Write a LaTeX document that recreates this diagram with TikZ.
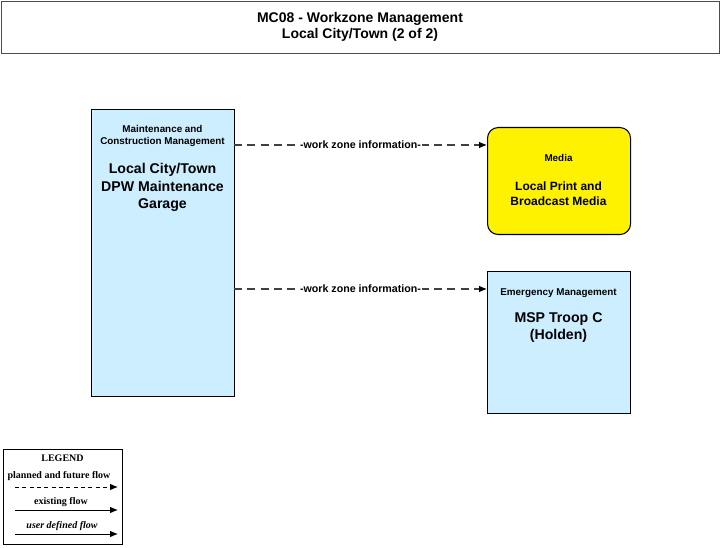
\documentclass[tikz,border=0pt]{standalone}
\usepackage{fontspec}
\setmainfont{Liberation Sans}
\newfontfamily\legfont{Liberation Serif}
\usetikzlibrary{arrows.meta}
\definecolor{boxblue}{HTML}{CCEEFF}
\begin{document}
\begin{tikzpicture}[x=0.75pt,y=-0.75pt,
  ent/.style={draw=black,line width=0.8pt,fill=boxblue,inner sep=0pt,anchor=north west},
  flow/.style={draw=black!75,dashed,dash pattern=on 6pt off 4pt,line width=0.8pt,-{Latex[length=6pt,width=5pt,black]}},
  flowlbl/.style={fill=white,inner sep=0.5pt,font=\bfseries\fontsize{8}{9}\selectfont},
  small/.style={font=\bfseries\fontsize{7.4}{9}\selectfont,align=center},
  big/.style={font=\bfseries\fontsize{10.6}{12.9}\selectfont,align=center},
  leg/.style={font=\legfont\bfseries\fontsize{7.5}{8}\selectfont}]
\useasboundingbox (0,0) rectangle (721,548);
\fill[white] (0,0) rectangle (721,548);
% title
\node[draw=black!70,line width=0.8pt,minimum width=718*0.75pt,minimum height=52*0.75pt,anchor=north west,inner sep=0pt] (title) at (1,1) {};
\node[font=\bfseries\fontsize{10.5}{12.5}\selectfont,align=center] (titletxt) at (360,27) {MC08 - Workzone Management\\Local City/Town (2 of 2)};
% left box
\node[ent,minimum width=143*0.75pt,minimum height=287*0.75pt] (dpw) at (91,109) {};
\node[small] (dpwa) at (162.5,136) {Maintenance and\\Construction Management};
\node[big] (dpwb) at (162.5,187.5) {Local City/Town\\DPW Maintenance\\Garage};
% media
\node[draw=black,line width=0.8pt,fill=yellow,rounded corners=8pt,minimum width=143*0.75pt,minimum height=107*0.75pt,anchor=north west,inner sep=0pt] (media) at (487,127) {};
\node[small] (mediaa) at (558.5,158) {Media};
\node[big,font=\bfseries\fontsize{9}{11.5}\selectfont] (mediab) at (558.5,193.5) {Local Print and\\Broadcast Media};
% MSP
\node[ent,minimum width=143*0.75pt,minimum height=142*0.75pt] (msp) at (487,271) {};
\node[small] (mspa) at (558.5,293) {Emergency Management};
\node[big] (mspb) at (558.5,327.5) {MSP Troop C\\(Holden)};
% flows
\coordinate (s1) at (234,145); \coordinate (e1) at (487,145);
\coordinate (s2) at (234,289); \coordinate (e2) at (487,289);
\draw[flow] (s1) -- node[flowlbl] (l1) {-work zone information-} (e1);
\draw[flow] (s2) -- node[flowlbl] (l2) {-work zone information-} (e2);
% legend
\node[draw=black,line width=0.8pt,minimum width=119*0.75pt,minimum height=95*0.75pt,anchor=north west,inner sep=0pt] (legend) at (3,449) {};
\node[leg] (lt) at (62.5,458) {LEGEND};
\node[leg] (lp) at (59,476) {planned and future flow};
\coordinate (p1) at (15,487); \coordinate (p2) at (118,487);
\draw[black,dashed,dash pattern=on 3pt off 2.5pt,line width=0.7pt,-{Latex[length=6pt,width=5pt]}] (p1) -- (p2);
\node[leg] (le) at (61,502) {existing flow};
\coordinate (x1) at (15,510); \coordinate (x2) at (118,510);
\draw[black,line width=0.7pt,-{Latex[length=6pt,width=5pt]}] (x1) -- (x2);
\node[leg,font=\legfont\bfseries\itshape\fontsize{7.5}{8}\selectfont] (lu) at (62,526) {user defined flow};
\coordinate (u1) at (15,534); \coordinate (u2) at (118,534);
\draw[black,line width=0.7pt,-{Latex[length=6pt,width=5pt]}] (u1) -- (u2);
\end{tikzpicture}
\end{document}
